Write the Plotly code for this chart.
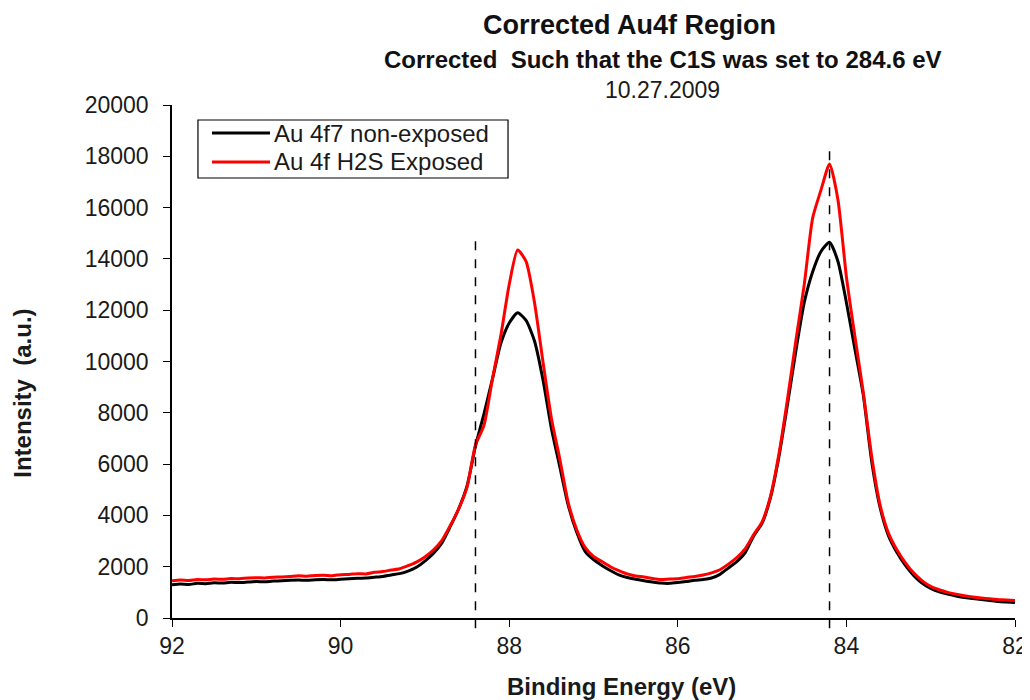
import plotly.graph_objects as go

energy = [round(92.0 - 0.1 * i, 1) for i in range(101)]

non_exposed = [
    1300, 1330, 1310, 1350, 1340, 1370, 1360, 1390, 1380, 1400,
    1420, 1410, 1440, 1450, 1470, 1480, 1470, 1490, 1500, 1490,
    1510, 1530, 1550, 1560, 1590, 1620, 1680, 1730, 1830, 1980,
    2220, 2520, 2920, 3560, 4250, 5150, 6700, 7950, 9300, 10700,
    11500, 11900, 11600, 10800, 9300, 7400, 5900, 4400, 3350, 2600,
    2280, 2050, 1850, 1680, 1580, 1510, 1450, 1400, 1360, 1350,
    1380, 1420, 1470, 1500, 1560, 1700, 1950, 2200, 2550, 3200,
    3700, 4700, 6300, 8300, 10400, 12300, 13500, 14300, 14650, 13900,
    12300, 10500, 8700, 6100, 4300, 3200, 2550, 2050, 1650, 1350,
    1150, 1020, 930, 860, 800, 760, 720, 680, 640, 620,
    600,
]

h2s_exposed = [
    1450, 1480, 1460, 1500, 1490, 1520, 1510, 1540, 1530, 1560,
    1570, 1560, 1590, 1600, 1620, 1650, 1630, 1660, 1670, 1650,
    1690, 1700, 1730, 1720, 1780, 1810, 1870, 1920, 2040, 2180,
    2380, 2650, 3020, 3600, 4250, 5100, 6750, 7500, 9300, 11000,
    13000, 14350, 13900, 12300, 10000, 7800, 6200, 4500, 3450, 2750,
    2400, 2200, 2000, 1850, 1720, 1640, 1600, 1540, 1500, 1520,
    1530, 1580, 1620, 1680, 1760, 1880, 2100, 2350, 2700, 3250,
    3750, 4750, 6400, 8500, 10800, 13000, 15600, 16700, 17700, 16300,
    13300, 11000, 8800, 6300, 4400, 3300, 2650, 2150, 1750, 1450,
    1230, 1100, 1000, 930, 870, 820, 780, 750, 720, 700,
    680,
]

series_names = ["Au 4f7 non-exposed", "Au 4f H2S Exposed"]
series_colors = ["black", "#ff0000"]

ref_lines_x = [88.4, 84.2]
ref_lines_top = [14700, 18500]
ref_line_bottom = -400

x_range = [92, 82]
y_range = [0, 20000]
y_ticks = [0, 2000, 4000, 6000, 8000, 10000, 12000, 14000, 16000, 18000, 20000]
x_ticks = [92, 90, 88, 86, 84, 82]

FONT = "Liberation Sans, Arial, sans-serif"
TXT = "#1a1a1a"

fig = go.Figure()
for yvals, name, color in zip([non_exposed, h2s_exposed], series_names, series_colors):
    fig.add_trace(go.Scatter(x=energy, y=yvals, mode="lines", name=name, showlegend=False,
                             line=dict(color=color, width=3, shape="spline", smoothing=0.6)))

for xv, top in zip(ref_lines_x, ref_lines_top):
    fig.add_shape(type="line", xref="x", yref="paper", x0=xv, x1=xv,
                  y0=(ref_line_bottom - y_range[0]) / (y_range[1] - y_range[0]),
                  y1=(top - y_range[0]) / (y_range[1] - y_range[0]),
                  line=dict(color="black", width=1.5, dash="dash"))

# legend box (drawn manually to match the original's compact style)
leg_x0, leg_x1, leg_y0, leg_y1 = 0.0308, 0.3986, 0.8577, 0.9708
fig.add_shape(type="rect", xref="paper", yref="paper", x0=leg_x0, x1=leg_x1, y0=leg_y0, y1=leg_y1,
              line=dict(color="black", width=1.2), fillcolor="white", layer="above")
legend_rows = [0.9454, 0.8889]
annotations = []
for name, color, ry in zip(series_names, series_colors, legend_rows):
    fig.add_shape(type="line", xref="paper", yref="paper", x0=0.0474, x1=0.1163, y0=ry, y1=ry,
                  line=dict(color=color, width=3), layer="above")
    annotations.append(dict(text=name, xref="paper", yref="paper", x=0.1186, y=ry,
                            xanchor="left", yanchor="middle", showarrow=False,
                            font=dict(family=FONT, size=24, color=TXT)))

annotations += [
    dict(text="<b>Corrected Au4f Region</b>", xref="paper", yref="paper",
         x=0.543, y=1.156, xanchor="center", yanchor="middle", showarrow=False,
         font=dict(family=FONT, size=27, color="#111")),
    dict(text="<b>Corrected  Such that the C1S was set to 284.6 eV</b>", xref="paper", yref="paper",
         x=0.582, y=1.088, xanchor="center", yanchor="middle", showarrow=False,
         font=dict(family=FONT, size=24, color="#111")),
    dict(text="10.27.2009", xref="paper", yref="paper",
         x=0.582, y=1.029, xanchor="center", yanchor="middle", showarrow=False,
         font=dict(family=FONT, size=23, color=TXT)),
    dict(text="<b>Binding Energy (eV)</b>", xref="paper", yref="paper",
         x=0.533, y=-0.134, xanchor="center", yanchor="middle", showarrow=False,
         font=dict(family=FONT, size=24, color=TXT)),
    dict(text="<b>Intensity  (a.u.)</b>", xref="paper", yref="paper",
         x=-0.1768, y=0.439, xanchor="center", yanchor="middle", showarrow=False,
         textangle=-90, font=dict(family=FONT, size=24, color=TXT)),
]

fig.update_layout(
    width=1022, height=692,
    margin=dict(l=164, r=15, t=97, b=82, autoexpand=False),
    paper_bgcolor="white", plot_bgcolor="white",
    font=dict(family=FONT, size=23, color=TXT),
    showlegend=False,
    xaxis=dict(range=x_range, tickvals=x_ticks, showgrid=False, zeroline=False,
               showline=True, linecolor="black", linewidth=1.5, automargin=False,
               ticks="outside", ticklen=7, tickcolor="black", tickformat="d",
               tickfont=dict(family=FONT, size=23, color=TXT)),
    yaxis=dict(range=y_range, tickvals=y_ticks, showgrid=False, zeroline=False,
               showline=True, linecolor="black", linewidth=1.5, automargin=False,
               ticks="outside", ticklen=7, tickcolor="black", ticklabelstandoff=10,
               tickformat="d",
               tickfont=dict(family=FONT, size=23, color=TXT)),
    annotations=annotations,
)

fig.write_html("out.html")
